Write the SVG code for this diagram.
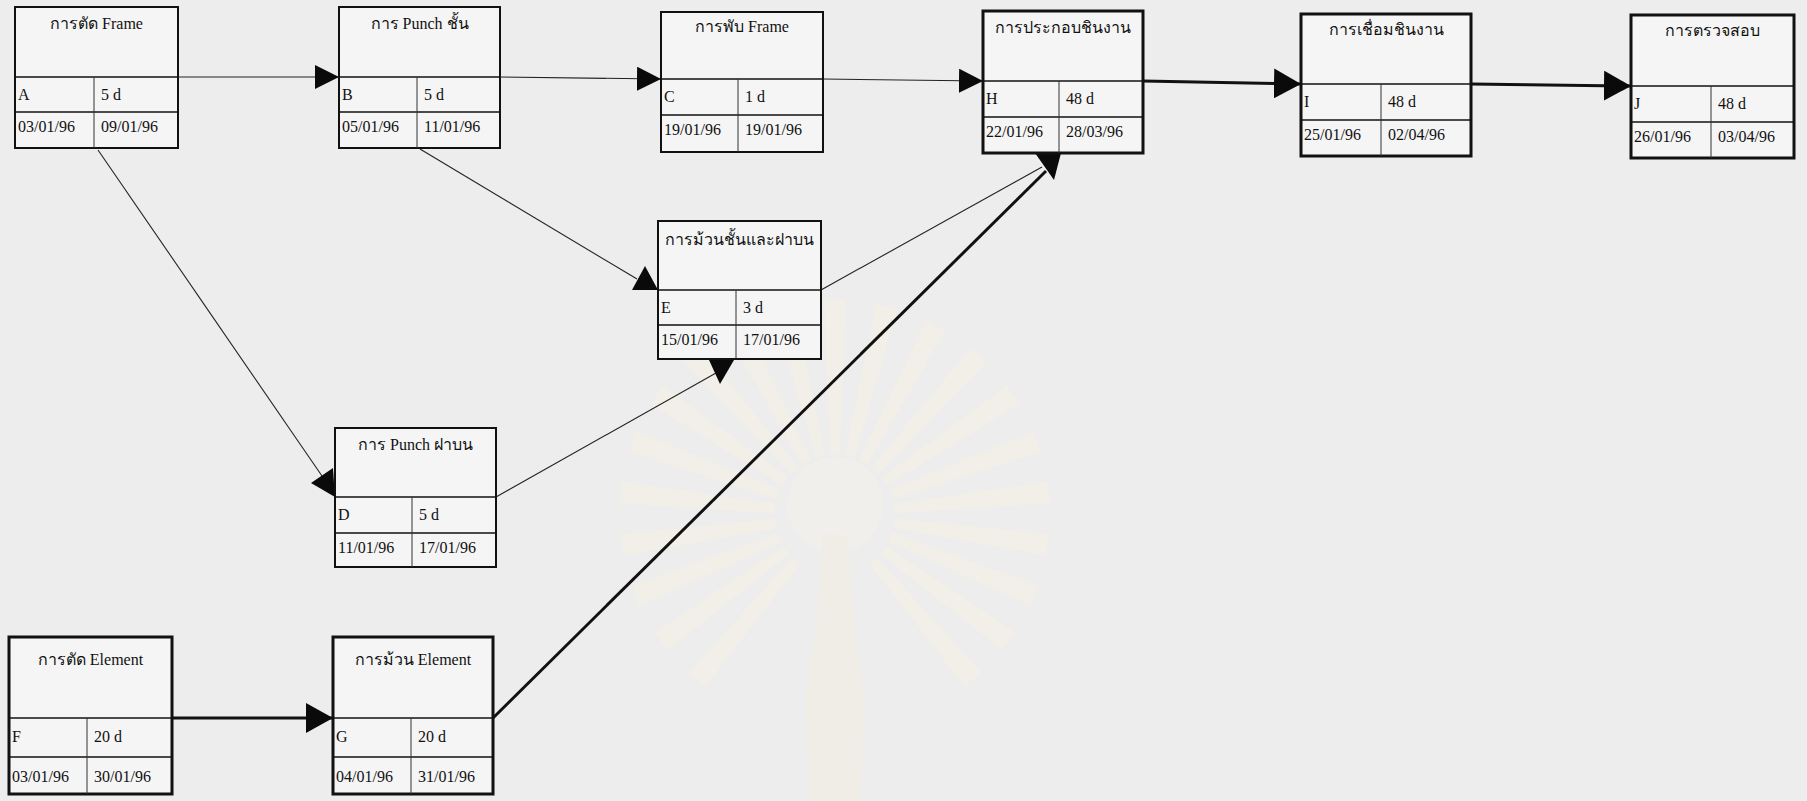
<svg xmlns="http://www.w3.org/2000/svg" width="1807" height="801" viewBox="0 0 1807 801">
  <style>
    .box { fill: #f5f5f5; stroke: #111; stroke-width: 2; }
    .box.crit { stroke-width: 3; }
    .hl { stroke: #111; stroke-width: 1.6; }
    .vl { stroke: #333; stroke-width: 1; }
    text { font-family: "Liberation Serif", "DejaVu Serif", serif; fill: #111; }
    .title { font-size: 16px; text-anchor: middle; }
    .cell { font-size: 16px; }
    .thin { stroke: #222; stroke-width: 1.1; fill: none; }
    .thick { stroke: #111; stroke-width: 3; fill: none; }
    .head { fill: #0a0a0a; }
    .ray { fill: #f4f0e2; }
  </style>
  <defs>
    <marker id="arrowS" markerUnits="userSpaceOnUse" viewBox="0 0 24 24" refX="24" refY="12" markerWidth="24" markerHeight="24" orient="auto">
      <path d="M0,0 L24,12 L0,24 Z" fill="#0a0a0a"/>
    </marker>
    <marker id="arrowL" markerUnits="userSpaceOnUse" viewBox="0 0 27 30" refX="27" refY="15" markerWidth="27" markerHeight="30" orient="auto">
      <path d="M0,0 L27,15 L0,30 Z" fill="#0a0a0a"/>
    </marker>
  </defs>

  <!-- paper -->
  <rect x="0" y="0" width="1807" height="801" fill="#ededed"/>

  <!-- faint seal printed on the paper -->
  <g id="seal" opacity="0.55">
    <g transform="translate(835,515)">
      <path class="ray" d="M-5,-60 L5,-60 L11,-215 L-11,-215 Z"/>
      <path class="ray" d="M-5,-60 L5,-60 L11,-215 L-11,-215 Z" transform="rotate(14)"/>
      <path class="ray" d="M-5,-60 L5,-60 L11,-215 L-11,-215 Z" transform="rotate(28)"/>
      <path class="ray" d="M-5,-60 L5,-60 L11,-215 L-11,-215 Z" transform="rotate(42)"/>
      <path class="ray" d="M-5,-60 L5,-60 L11,-215 L-11,-215 Z" transform="rotate(56)"/>
      <path class="ray" d="M-5,-60 L5,-60 L11,-215 L-11,-215 Z" transform="rotate(70)"/>
      <path class="ray" d="M-5,-60 L5,-60 L11,-215 L-11,-215 Z" transform="rotate(84)"/>
      <path class="ray" d="M-5,-60 L5,-60 L11,-215 L-11,-215 Z" transform="rotate(98)"/>
      <path class="ray" d="M-5,-60 L5,-60 L11,-215 L-11,-215 Z" transform="rotate(112)"/>
      <path class="ray" d="M-5,-60 L5,-60 L11,-215 L-11,-215 Z" transform="rotate(126)"/>
      <path class="ray" d="M-5,-60 L5,-60 L11,-215 L-11,-215 Z" transform="rotate(140)"/>
      <path class="ray" d="M-5,-60 L5,-60 L11,-215 L-11,-215 Z" transform="rotate(-14)"/>
      <path class="ray" d="M-5,-60 L5,-60 L11,-215 L-11,-215 Z" transform="rotate(-28)"/>
      <path class="ray" d="M-5,-60 L5,-60 L11,-215 L-11,-215 Z" transform="rotate(-42)"/>
      <path class="ray" d="M-5,-60 L5,-60 L11,-215 L-11,-215 Z" transform="rotate(-56)"/>
      <path class="ray" d="M-5,-60 L5,-60 L11,-215 L-11,-215 Z" transform="rotate(-70)"/>
      <path class="ray" d="M-5,-60 L5,-60 L11,-215 L-11,-215 Z" transform="rotate(-84)"/>
      <path class="ray" d="M-5,-60 L5,-60 L11,-215 L-11,-215 Z" transform="rotate(-98)"/>
      <path class="ray" d="M-5,-60 L5,-60 L11,-215 L-11,-215 Z" transform="rotate(-112)"/>
      <path class="ray" d="M-5,-60 L5,-60 L11,-215 L-11,-215 Z" transform="rotate(-126)"/>
      <path class="ray" d="M-5,-60 L5,-60 L11,-215 L-11,-215 Z" transform="rotate(-140)"/>
      <circle cx="0" cy="-10" r="48" fill="#f3f1ea"/>
      <path d="M-12,20 L12,20 L20,120 L30,180 L26,290 L-26,290 L-30,180 L-20,120 Z" fill="#f1eddf"/>
    </g>
  </g>

  <!-- connectors -->
  <g id="connectors">
    <line class="thin" x1="178" y1="77" x2="339" y2="77" marker-end="url(#arrowS)"/>
    <line class="thin" x1="500" y1="77" x2="661" y2="79" marker-end="url(#arrowS)"/>
    <line class="thin" x1="823" y1="79" x2="983" y2="81" marker-end="url(#arrowS)"/>
    <line class="thick" x1="1143" y1="81" x2="1301" y2="84" marker-end="url(#arrowL)"/>
    <line class="thick" x1="1471" y1="84" x2="1631" y2="86" marker-end="url(#arrowL)"/>
    <line class="thick" x1="172" y1="718" x2="333" y2="718" marker-end="url(#arrowL)"/>

    <!-- A to D -->
    <line class="thin" x1="98" y1="150" x2="322" y2="476"/>
    <polygon class="head" points="311,483 333,468 335,497"/>
    <!-- B to E -->
    <line class="thin" x1="420" y1="149" x2="637" y2="279"/>
    <polygon class="head" points="632,290 645,266 658,290"/>
    <!-- D to E -->
    <line class="thin" x1="496" y1="497" x2="716" y2="373"/>
    <polygon class="head" points="709,360 734,360 720,384"/>
    <!-- E to H and G to H -->
    <line class="thin" x1="821" y1="290" x2="1042" y2="167"/>
    <line class="thick" x1="493" y1="718" x2="1046" y2="171"/>
    <polygon class="head" points="1035,153 1061,153 1054,180"/>
  </g>

  <!-- nodes -->
  <g id="node-A" transform="translate(15,7)">
    <rect class="box" x="0" y="0" width="163" height="141"/>
    <line class="hl" x1="0" y1="70" x2="163" y2="70"/>
    <line class="hl" x1="0" y1="105" x2="163" y2="105"/>
    <line class="vl" x1="79" y1="70" x2="79" y2="141"/>
    <text class="title" x="81.5" y="22">การตัด Frame</text>
    <text class="cell" x="3" y="93">A</text>
    <text class="cell" x="86" y="93">5 d</text>
    <text class="cell" x="3" y="125">03/01/96</text>
    <text class="cell" x="86" y="125">09/01/96</text>
  </g>

  <g id="node-B" transform="translate(339,7)">
    <rect class="box" x="0" y="0" width="161" height="141"/>
    <line class="hl" x1="0" y1="70" x2="161" y2="70"/>
    <line class="hl" x1="0" y1="105" x2="161" y2="105"/>
    <line class="vl" x1="78" y1="70" x2="78" y2="141"/>
    <text class="title" x="80.5" y="22">การ Punch ชั้น</text>
    <text class="cell" x="3" y="93">B</text>
    <text class="cell" x="85" y="93">5 d</text>
    <text class="cell" x="3" y="125">05/01/96</text>
    <text class="cell" x="85" y="125">11/01/96</text>
  </g>

  <g id="node-C" transform="translate(661,12)">
    <rect class="box" x="0" y="0" width="162" height="140"/>
    <line class="hl" x1="0" y1="67" x2="162" y2="67"/>
    <line class="hl" x1="0" y1="103" x2="162" y2="103"/>
    <line class="vl" x1="77" y1="67" x2="77" y2="140"/>
    <text class="title" x="81" y="20">การพับ Frame</text>
    <text class="cell" x="3" y="90">C</text>
    <text class="cell" x="84" y="90">1 d</text>
    <text class="cell" x="3" y="123">19/01/96</text>
    <text class="cell" x="84" y="123">19/01/96</text>
  </g>

  <g id="node-H" transform="translate(983,11)">
    <rect class="box crit" x="0" y="0" width="160" height="142"/>
    <line class="hl" x1="0" y1="70" x2="160" y2="70"/>
    <line class="hl" x1="0" y1="106" x2="160" y2="106"/>
    <line class="vl" x1="76" y1="70" x2="76" y2="142"/>
    <text class="title" x="80" y="22">การประกอบชินงาน</text>
    <text class="cell" x="3" y="93">H</text>
    <text class="cell" x="83" y="93">48 d</text>
    <text class="cell" x="3" y="126">22/01/96</text>
    <text class="cell" x="83" y="126">28/03/96</text>
  </g>

  <g id="node-I" transform="translate(1301,14)">
    <rect class="box crit" x="0" y="0" width="170" height="142"/>
    <line class="hl" x1="0" y1="70" x2="170" y2="70"/>
    <line class="hl" x1="0" y1="106" x2="170" y2="106"/>
    <line class="vl" x1="80" y1="70" x2="80" y2="142"/>
    <text class="title" x="85" y="21">การเชื่อมชินงาน</text>
    <text class="cell" x="3" y="93">I</text>
    <text class="cell" x="87" y="93">48 d</text>
    <text class="cell" x="3" y="126">25/01/96</text>
    <text class="cell" x="87" y="126">02/04/96</text>
  </g>

  <g id="node-J" transform="translate(1631,15)">
    <rect class="box crit" x="0" y="0" width="163" height="143"/>
    <line class="hl" x1="0" y1="71" x2="163" y2="71"/>
    <line class="hl" x1="0" y1="107" x2="163" y2="107"/>
    <line class="vl" x1="80" y1="71" x2="80" y2="143"/>
    <text class="title" x="81.5" y="21">การตรวจสอบ</text>
    <text class="cell" x="3" y="94">J</text>
    <text class="cell" x="87" y="94">48 d</text>
    <text class="cell" x="3" y="127">26/01/96</text>
    <text class="cell" x="87" y="127">03/04/96</text>
  </g>

  <g id="node-E" transform="translate(658,221)">
    <rect class="box" x="0" y="0" width="163" height="138"/>
    <line class="hl" x1="0" y1="69" x2="163" y2="69"/>
    <line class="hl" x1="0" y1="104" x2="163" y2="104"/>
    <line class="vl" x1="78" y1="69" x2="78" y2="138"/>
    <text class="title" x="81.5" y="24">การม้วนชั้นและฝาบน</text>
    <text class="cell" x="3" y="92">E</text>
    <text class="cell" x="85" y="92">3 d</text>
    <text class="cell" x="3" y="124">15/01/96</text>
    <text class="cell" x="85" y="124">17/01/96</text>
  </g>

  <g id="node-D" transform="translate(335,428)">
    <rect class="box" x="0" y="0" width="161" height="139"/>
    <line class="hl" x1="0" y1="69" x2="161" y2="69"/>
    <line class="hl" x1="0" y1="105" x2="161" y2="105"/>
    <line class="vl" x1="77" y1="69" x2="77" y2="139"/>
    <text class="title" x="80.5" y="22">การ Punch ฝาบน</text>
    <text class="cell" x="3" y="92">D</text>
    <text class="cell" x="84" y="92">5 d</text>
    <text class="cell" x="3" y="125">11/01/96</text>
    <text class="cell" x="84" y="125">17/01/96</text>
  </g>

  <g id="node-F" transform="translate(9,637)">
    <rect class="box crit" x="0" y="0" width="163" height="157"/>
    <line class="hl" x1="0" y1="81" x2="163" y2="81"/>
    <line class="hl" x1="0" y1="120" x2="163" y2="120"/>
    <line class="vl" x1="78" y1="81" x2="78" y2="157"/>
    <text class="title" x="81.5" y="28">การตัด Element</text>
    <text class="cell" x="3" y="105">F</text>
    <text class="cell" x="85" y="105">20 d</text>
    <text class="cell" x="3" y="145">03/01/96</text>
    <text class="cell" x="85" y="145">30/01/96</text>
  </g>

  <g id="node-G" transform="translate(333,637)">
    <rect class="box crit" x="0" y="0" width="160" height="157"/>
    <line class="hl" x1="0" y1="81" x2="160" y2="81"/>
    <line class="hl" x1="0" y1="120" x2="160" y2="120"/>
    <line class="vl" x1="78" y1="81" x2="78" y2="157"/>
    <text class="title" x="80" y="28">การม้วน Element</text>
    <text class="cell" x="3" y="105">G</text>
    <text class="cell" x="85" y="105">20 d</text>
    <text class="cell" x="3" y="145">04/01/96</text>
    <text class="cell" x="85" y="145">31/01/96</text>
  </g>
</svg>
